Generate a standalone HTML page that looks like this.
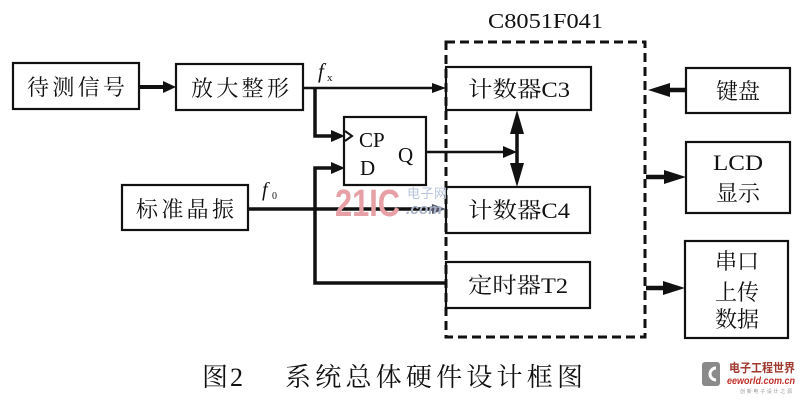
<!DOCTYPE html>
<html><head><meta charset="utf-8"><style>
html,body{margin:0;padding:0;background:#fff;}
svg{display:block;}
</style></head><body>
<svg width="800" height="400" viewBox="0 0 800 400" xmlns="http://www.w3.org/2000/svg" font-family="'Liberation Serif','Noto Serif CJK SC',serif" fill="#111">
<rect width="800" height="400" fill="#fff"/>
<g fill="none" stroke="#111" stroke-width="2.2">
<rect x="13" y="63" width="126" height="46"/>
<rect x="176" y="64" width="127" height="46"/>
<rect x="122" y="185" width="126" height="45"/>
<rect x="344" y="117" width="82" height="68"/>
<rect x="446" y="67" width="145" height="43"/>
<rect x="446" y="187" width="144" height="46"/>
<rect x="446" y="262" width="144" height="46"/>
<rect x="686" y="68" width="104" height="45"/>
<rect x="686" y="142" width="104" height="71"/>
<rect x="685" y="241" width="103" height="97"/>
</g>
<!-- dashed MCU box -->
<path d="M446 42 H645 V337 H446 Z" fill="none" stroke="#111" stroke-width="3" stroke-dasharray="9 5"/>
<g stroke="#111" fill="none">
<line x1="139" y1="87" x2="165" y2="87" stroke-width="4"/>
<line x1="303" y1="88" x2="436" y2="88" stroke-width="2.5"/>
<polyline points="315,88 315,136 335,136" stroke-width="3.5"/>
<polyline points="335,168 315,168 315,283 446,283" stroke-width="3.5"/>
<line x1="248" y1="209" x2="436" y2="209" stroke-width="3.5"/>
<line x1="426" y1="152" x2="506" y2="152" stroke-width="2.5"/>
<line x1="517" y1="125" x2="517" y2="172" stroke-width="3.5"/>
<line x1="686" y1="90" x2="668" y2="90" stroke-width="4.5"/>
<line x1="646" y1="177" x2="665" y2="177" stroke-width="4.5"/>
<line x1="646" y1="288" x2="665" y2="288" stroke-width="4.5"/>
<polyline points="345,131 352,136 345,141" stroke-width="2"/>
</g>
<g fill="#111">
<polygon points="163,81 176,87 163,93"/>
<polygon points="432,83 446,88 432,93"/>
<polygon points="331,130 345,136 331,142"/>
<polygon points="331,162 345,168 331,174"/>
<polygon points="432,204 446,209 432,214" fill="#556"/>
<polygon points="503,146 517,152 503,158"/>
<polygon points="517,110 510,134 524,134"/>
<polygon points="517,187 510,163 524,163"/>
<polygon points="648,90 670,83 670,97"/>
<polygon points="686,177 664,170 664,184"/>
<polygon points="685,288 663,281 663,295"/>
</g>
<!-- box labels -->
<text x="76" y="95" font-size="22" text-anchor="middle" textLength="98">待测信号</text>
<text x="240" y="96" font-size="22" text-anchor="middle" textLength="98">放大整形</text>
<text x="185" y="217" font-size="22" text-anchor="middle" textLength="98">标准晶振</text>
<text x="468" y="97" font-size="22" textLength="102" lengthAdjust="spacingAndGlyphs">计数器C3</text>
<text x="468" y="218" font-size="22" textLength="102" lengthAdjust="spacingAndGlyphs">计数器C4</text>
<text x="468" y="293" font-size="22" textLength="100" lengthAdjust="spacingAndGlyphs">定时器T2</text>
<text x="738" y="99" font-size="22" text-anchor="middle">键盘</text>
<text x="713" y="170" font-size="22" textLength="50" lengthAdjust="spacingAndGlyphs">LCD</text>
<text x="738" y="201" font-size="22" text-anchor="middle">显示</text>
<text x="737" y="269" font-size="22" text-anchor="middle">串口</text>
<text x="737" y="300" font-size="22" text-anchor="middle">上传</text>
<text x="737" y="327" font-size="22" text-anchor="middle">数据</text>
<text x="359" y="147" font-size="21">CP</text>
<text x="360" y="175" font-size="21">D</text>
<text x="398" y="162" font-size="21">Q</text>
<text x="488" y="28" font-size="21" textLength="115" lengthAdjust="spacingAndGlyphs">C8051F041</text>
<text x="318" y="78" font-size="21" font-style="italic">f</text>
<text x="327" y="81" font-size="11">x</text>
<text x="262" y="196" font-size="20" font-style="italic">f</text>
<text x="272" y="199" font-size="10">0</text>
<!-- watermark -->
<text x="335" y="216" style="font-family:'Liberation Sans',sans-serif;font-weight:bold;font-size:38px;fill:#e6a0a6" textLength="65" lengthAdjust="spacingAndGlyphs">21IC</text>
<text x="407" y="198" style="font-family:'Noto Sans CJK SC',sans-serif;font-size:13px;fill:#b8c4dc" textLength="40">电子网</text>
<text x="406" y="214" style="font-family:'Liberation Sans',sans-serif;font-weight:bold;font-style:italic;font-size:15px;fill:#a8b2c8" textLength="36" lengthAdjust="spacingAndGlyphs">.com</text>
<!-- caption -->
<text x="202" y="386" style="font-family:'Noto Serif CJK SC',serif;font-size:26px">图</text>
<text x="230" y="386" font-size="26">2</text>
<text x="285" y="386" style="font-family:'Noto Serif CJK SC',serif;font-size:26px" textLength="298">系统总体硬件设计框图</text>
<!-- eeworld logo -->
<rect x="702" y="362" width="18" height="24" rx="3" fill="#8a8a8a"/>
<path d="M716 368 A6 6 0 1 0 716 380" fill="none" stroke="#fff" stroke-width="3"/>
<text x="729" y="372" style="font-family:'Noto Sans CJK SC',sans-serif;font-weight:bold;font-size:12px;fill:#a03a30" textLength="66" lengthAdjust="spacingAndGlyphs">电子工程世界</text>
<text x="727" y="384" style="font-family:'Liberation Sans',sans-serif;font-weight:bold;font-style:italic;font-size:10px;fill:#c03028" textLength="68" lengthAdjust="spacingAndGlyphs">eeworld.com.cn</text>
<text x="740" y="393" style="font-family:'Noto Sans CJK SC',sans-serif;font-size:5px;fill:#999" textLength="52">创新电子设计之源</text>
</svg>
</body></html>
